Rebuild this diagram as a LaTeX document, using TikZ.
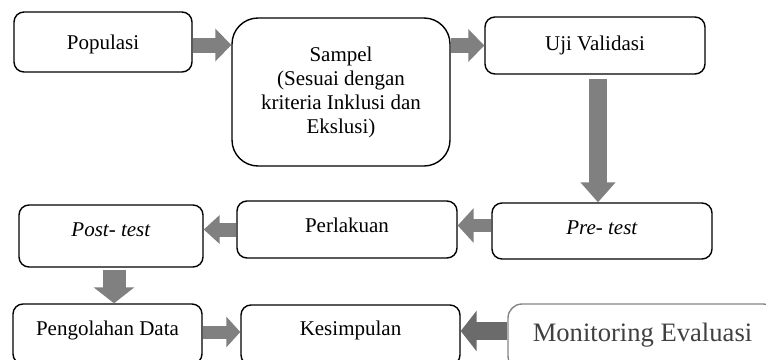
\documentclass[tikz,border=0pt]{standalone}
\usepackage{fontspec}
\setmainfont{Liberation Serif}
\usetikzlibrary{arrows.meta}
\definecolor{arrowgray}{HTML}{808080}
\definecolor{darkarrow}{HTML}{6B6B6B}
\definecolor{boxgray}{HTML}{858585}
\definecolor{textgray}{HTML}{404040}
\begin{document}
\begin{tikzpicture}[x=0.5pt, y=-0.5pt,
	box/.style = {draw, line width=0.7pt, rounded corners=5pt, align=center,
		font=\fontsize{10.5}{12}\selectfont},
	oneline/.style = {text height=7pt, text depth=#1},
	blockarrow/.style = {draw=arrowgray, line width=7.5pt, -{Triangle[width=16pt,length=8pt]}}]

	\clip (0,0) rectangle (766,359);
	\useasboundingbox (0,0) rectangle (766,359);

	\node[box, oneline=0pt, minimum width=89pt, minimum height=30pt] (pop) at (103,42) {Populasi};
	\node[box, minimum width=109pt, minimum height=74pt, rounded corners=13pt] (samp) at (341,92) {Sampel\\(Sesuai dengan\\kriteria Inklusi dan\\Ekslusi)};
	\node[box, oneline=2.5pt, minimum width=110pt, minimum height=28.5pt] (uji) at (595,45.5) {Uji Validasi};
	\node[box, oneline=4pt, minimum width=110pt, minimum height=28pt] (pre) at (602,231) {\textit{Pre- test}};
	\node[box, oneline=4.5pt, minimum width=110pt, minimum height=28.5pt] (perl) at (347,229.5) {Perlakuan};
	\node[box, oneline=7pt, minimum width=92pt, minimum height=31pt] (post) at (111,236) {\textit{Post- test}};
	\node[box, oneline=6pt, minimum width=94.5pt, minimum height=30pt] (peng) at (107.5,334) {Pengolahan Data};
	\node[box, oneline=7pt, minimum width=109.5pt, minimum height=30pt] (kes) at (350.5,335) {Kesimpulan};
	\node[box, draw=boxgray, minimum width=134.5pt, minimum height=33pt, rounded corners=7pt,
		font=\fontsize{13.3}{15}\selectfont, text=textgray, text height=9pt, text depth=5pt] (mon) at (642.5,337) {Monitoring Evaluasi};

	\draw[blockarrow] ([yshift=-1.5pt]pop.east) -- ([yshift=-1.5pt]pop.east -| samp.west);
	\draw[blockarrow] (samp.east |- uji.west) -- (uji.west);
	\draw[blockarrow, line width=9pt, -{Triangle[width=17pt,length=10pt]}, shorten <=2pt] ([xshift=1.5pt]uji.south) -- ([xshift=1.5pt]uji.south |- pre.north);
	\draw[blockarrow, line width=6.5pt, -{Triangle[width=17pt,length=8pt]}] ([yshift=2.75pt]pre.west) -- ([yshift=2.75pt]pre.west -| perl.east);
	\draw[blockarrow, line width=7pt, -{Triangle[width=14pt,length=8pt]}] (perl.west) -- (perl.west -| post.east);
	\draw[blockarrow, line width=11.5pt, -{Triangle[width=20pt,length=8pt]}, shorten <=1pt] ([xshift=1.5pt]post.south) -- ([xshift=1.5pt]post.south |- peng.north);
	\draw[blockarrow, line width=6.5pt, -{Triangle[width=15pt,length=7pt]}] ([yshift=1pt]peng.east) -- ([yshift=1pt]peng.east -| kes.west);
	\draw[blockarrow, draw=darkarrow, line width=9pt, -{Triangle[width=20pt,length=8pt]}] ([yshift=3pt]mon.west) -- ([yshift=3pt]mon.west -| kes.east);
\end{tikzpicture}
\end{document}
